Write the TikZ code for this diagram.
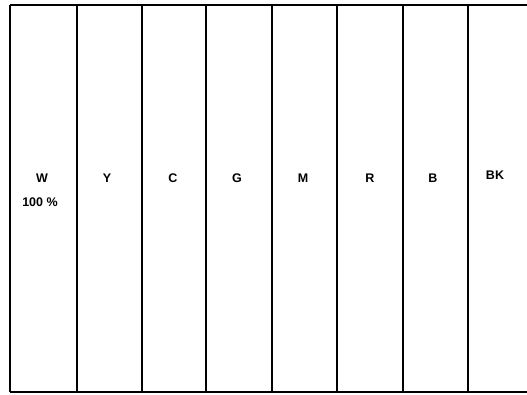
\documentclass[tikz,border=0pt]{standalone}
\usepackage{fontspec}
\setmainfont{Liberation Sans}
\begin{document}
\begin{tikzpicture}[x=1pt,y=-1pt,
  thin rule/.style={line width=1.4pt,black},
  thick rule/.style={line width=2.3pt,black},
  lab/.style={font=\bfseries\fontsize{12.5}{14}\selectfont,inner sep=0pt,align=center}]
\useasboundingbox (0,0) rectangle (527,394);
\fill[white] (0,0) rectangle (527,394);
% frame
\draw[thin rule] (10,5) -- (527,5);
\draw[thick rule] (10,392) -- (527,392);
\draw[thin rule] (10,5) -- (10,392);
% column dividers
\draw[thick rule] (77,5) -- (77,392);
\draw[thin rule] (142,5) -- (142,392);
\draw[thin rule] (206,5) -- (206,392);
\draw[thick rule] (272,5) -- (272,392);
\draw[thin rule] (337,5) -- (337,392);
\draw[thick rule] (403,5) -- (403,392);
\draw[thin rule] (468,5) -- (468,392);
% labels
\node[lab] (w) at (42,178) {W};
\node[lab] (wp) at (40,202) {100 \%};
\node[lab] (y) at (107,178) {Y};
\node[lab] (c) at (173,178) {C};
\node[lab] (g) at (237,178) {G};
\node[lab] (m) at (303,178) {M};
\node[lab] (r) at (370,178) {R};
\node[lab] (b) at (433,178) {B};
\node[lab] (bk) at (495,175) {BK};
\end{tikzpicture}
\end{document}
